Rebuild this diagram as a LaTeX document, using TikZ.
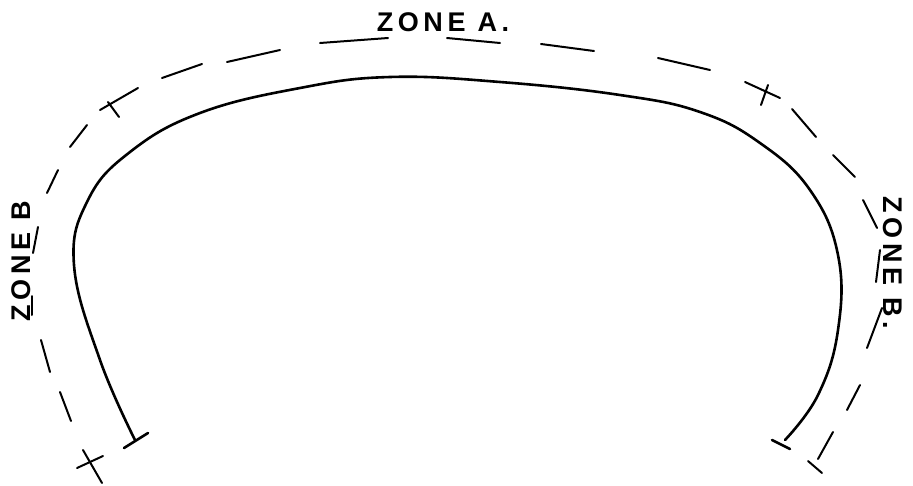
\documentclass[tikz,border=0pt]{standalone}
\usepackage{fontspec}
\newfontfamily\zonefont[LetterSpace=17]{Liberation Sans Bold}
\usetikzlibrary{positioning}
\tikzset{
  arch/.style={line width=2.6pt,line cap=round,line join=round},
  stroke/.style={line width=2pt,line cap=round},
  zone/.style={inner sep=0pt,font=\zonefont\fontsize{27}{27}\selectfont},
}

\begin{document}
\begin{tikzpicture}[x=1pt,y=-1pt]
  \useasboundingbox (0,0) rectangle (913,485);
  % inner arch
  \draw[arch] plot[smooth,tension=0.7] coordinates {(135,440) (100,360) (74,265) (88,200)
    (130,152) (200,113) (300,88) (390,77) (500,82) (620,95) (700,112) (760,143) (810,190)
    (838,255) (838,330) (818,395) (785,440)};
  \draw[arch] (124,448) -- (148,433);
  \draw[arch] (772,440) -- (790,449);
  % outer zone line, one dash at a time
  \foreach \ax/\ay/\bx/\by in {60/392/71/421, 41/340/50/372, 32/296/32/315, 38/227/33/253,
    58/170/47/193, 87/125/70/147, 100/110/138/88, 162/78/202/64,
    227/62/280/50, 320/43/388/38, 447/38/500/43, 541/44/594/51,
    658/58/710/70, 745/82/780/98, 792/109/816/137, 833/155/855/177,
    863/200/877/228, 880/250/876/282, 882/308/867/348, 860/385/847/410,
    833/432/818/459}
    \draw[stroke] (\ax,\ay) -- (\bx,\by);
  % zone limits
  \draw[stroke] (108,102) -- (119,117);
  \draw[stroke] (768,85) -- (761,105);
  \draw[stroke] (77,468) -- (103,456);
  \draw[stroke] (83,450) -- (102,483);
  \draw[stroke] (808,461) -- (822,473);
  % labels
  \node[zone] (zA) at (443,22) {ZONE A.};
  \node[zone,rotate=90] (zBl) at (21,261) {ZONE B};
  \node[zone,rotate=-90] (zBr) at (893,263) {ZONE B.};
\end{tikzpicture}
\end{document}
